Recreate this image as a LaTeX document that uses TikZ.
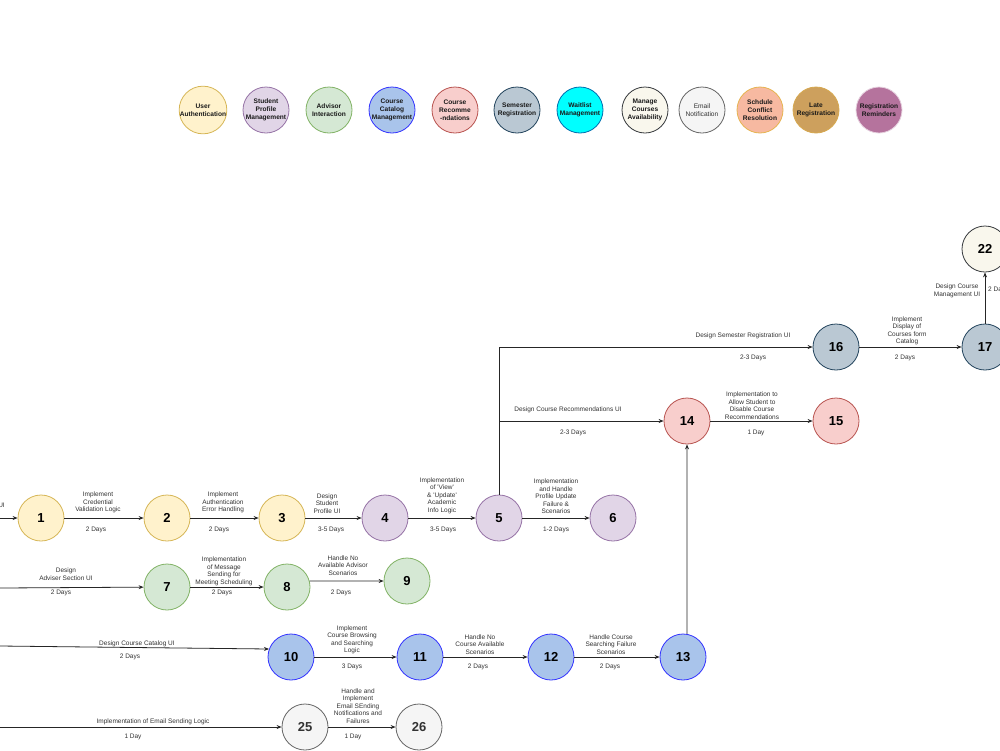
\documentclass[tikz,border=0pt]{standalone}
\usepackage{fontspec}
\setmainfont{Liberation Sans}
\usetikzlibrary{arrows.meta}
\definecolor{uaF}{HTML}{FFF2CC}\definecolor{uaD}{HTML}{D6B656}
\definecolor{spF}{HTML}{E1D5E7}\definecolor{spD}{HTML}{9673A6}
\definecolor{aiF}{HTML}{D5E8D4}\definecolor{aiD}{HTML}{82B366}
\definecolor{ccF}{HTML}{A9C4EB}\definecolor{ccD}{HTML}{3333FF}
\definecolor{crF}{HTML}{F8CECC}\definecolor{crD}{HTML}{B85450}
\definecolor{srF}{HTML}{BAC8D3}\definecolor{srD}{HTML}{23445D}
\definecolor{wmF}{HTML}{00FFFF}\definecolor{wmD}{HTML}{006EAF}
\definecolor{mcF}{HTML}{F9F7ED}\definecolor{mcD}{HTML}{36393D}
\definecolor{enF}{HTML}{F5F5F5}\definecolor{enD}{HTML}{666666}
\definecolor{scF}{HTML}{F7B9A1}\definecolor{scD}{HTML}{E6B450}
\definecolor{lrF}{HTML}{CDA05D}\definecolor{lrD}{HTML}{D6A84F}
\definecolor{rrF}{HTML}{B5739D}\definecolor{rrD}{HTML}{E6D0DE}
\definecolor{entx}{HTML}{333333}
\tikzset{
  circ/.style={circle, draw, minimum size=46pt, inner sep=0pt, line width=0.8pt},
  leg/.style={circ, font=\fontsize{6.6}{7.8}\selectfont\bfseries, align=center, text=black!90},
  num/.style={circ, font=\fontsize{13}{15}\selectfont\bfseries},
  lab/.style={font=\fontsize{6.5}{7.5}\selectfont, align=center, text=black!80, inner sep=0pt},
  arr/.style={draw=black!85, line width=0.8pt, -{Stealth[length=5pt,width=4pt]}},
  ua/.style={fill=uaF, draw=uaD}, sp/.style={fill=spF, draw=spD},
  ai/.style={fill=aiF, draw=aiD}, cc/.style={fill=ccF, draw=ccD},
  cr/.style={fill=crF, draw=crD}, sr/.style={fill=srF, draw=srD},
  wm/.style={fill=wmF, draw=wmD}, mc/.style={fill=mcF, draw=mcD},
  en/.style={fill=enF, draw=enD}, sc/.style={fill=scF, draw=scD},
  lr/.style={fill=lrF, draw=lrD}, rr/.style={fill=rrF, draw=rrD}
}
\begin{document}
\begin{tikzpicture}[x=1pt,y=-1pt]
\fill[white] (0,0) rectangle (1000,750);
\useasboundingbox (0,0) rectangle (1000,750);
\clip (0,0) rectangle (1000,750);

% legend
\node[leg,ua] (g1) at (203,110) {User\\Authentication};
\node[leg,sp] (g2) at (266,110) {Student\\Profile\\Management};
\node[leg,ai] (g3) at (329,110) {Advisor\\Interaction};
\node[leg,cc] (g4) at (392,110) {Course\\Catalog\\Management};
\node[leg,cr] (g5) at (455,110) {Course\\Recomme\\-ndations};
\node[leg,sr] (g6) at (517,110) {Semester\\Registration};
\node[leg,wm] (g7) at (580,110) {Waitlist\\Management};
\node[leg,mc] (g8) at (645,110) {Manage\\Courses\\Availability};
\node[leg,en,font=\fontsize{6.6}{7.8}\selectfont,text=entx] (g9) at (702,110) {Email\\Notification};
\node[leg,sc] (g10) at (760,110) {Schdule\\Conflict\\Resolution};
\node[leg,lr] (g11) at (816,110) {Late\\Registration};
\node[leg,rr] (g12) at (879,110) {Registration\\Reminders};

% nodes
\node[num,ua] (n1) at (41,518) {1};
\node[num,ua] (n2) at (167,518) {2};
\node[num,ua] (n3) at (282,518) {3};
\node[num,sp] (n4) at (385,518) {4};
\node[num,sp] (n5) at (499,518) {5};
\node[num,sp] (n6) at (613,518) {6};
\node[num,ai] (n7) at (167,587) {7};
\node[num,ai] (n8) at (287,587) {8};
\node[num,ai] (n9) at (407,581) {9};
\node[num,cc] (n10) at (291,657) {10};
\node[num,cc] (n11) at (420,657) {11};
\node[num,cc] (n12) at (551,657) {12};
\node[num,cc] (n13) at (683,657) {13};
\node[num,cr] (n14) at (687,421) {14};
\node[num,cr] (n15) at (836,421) {15};
\node[num,sr] (n16) at (836,347) {16};
\node[num,sr] (n17) at (985,347) {17};
\node[num,mc] (n22) at (985,249) {22};
\node[num,en,text=entx] (n25) at (305,727) {25};
\node[num,en,text=entx] (n26) at (419,727) {26};

% free ends at the left edge
\coordinate (s1) at (0,518);
\coordinate (s7) at (0,588);
\coordinate (s10) at (0,646);
\coordinate (s25) at (0,727);

% connectors
\draw[arr] (s1) -- (n1);
\draw[arr] (n1) -- (n2);
\draw[arr] (n2) -- (n3);
\draw[arr] (n3) -- (n4);
\draw[arr] (n4) -- (n5);
\draw[arr] (n5) -- (n6);
\draw[arr] (n5.north) |- (n16.west);
\draw[arr] (n5.north |- n14.west) -- (n14.west);
\draw[arr] (n14) -- (n15);
\draw[arr] (n16) -- (n17);
\draw[arr] (n17) -- (n22);
\draw[arr] (s7) -- (n7);
\draw[arr] (n7) -- (n8);
\draw[arr] (n8.15) -- (n9.west);
\draw[arr] (s10) -- (n10.160);
\draw[arr] (n10) -- (n11);
\draw[arr] (n11) -- (n12);
\draw[arr] (n12) -- (n13);
\draw[arr] (n13.80) -- (n14.south);
\draw[arr] (s25) -- (n25);
\draw[arr] (n25) -- (n26);

% labels
\node[lab, anchor=east] (l01) at (5,505) {UI};
\node[lab, anchor=south] (l12) at (98,513.5) {Implement\\Credential\\Validation Logic};
\node[lab] (d12) at (96,530) {2 Days};
\node[lab, anchor=south] (l23) at (223,513.5) {Implement\\Authentication\\Error Handling};
\node[lab] (d23) at (219,530) {2 Days};
\node[lab, anchor=south] (l34) at (327,513.5) {Design\\Student\\Profile UI};
\node[lab] (d34) at (331,530) {3-5 Days};
\node[lab, anchor=south] (l45) at (442,514) {Implementation\\of \textquotesingle View\textquotesingle\\\& \textquotesingle Update\textquotesingle\\Academic\\Info Logic};
\node[lab] (d45) at (443,530) {3-5 Days};
\node[lab, anchor=south] (l56) at (556,514) {Implementation\\and Handle\\Profile Update\\Failure \&\\Scenarios};
\node[lab] (d56) at (556,530) {1-2 Days};
\node[lab] (l516) at (743,336) {Design Semester Registration UI};
\node[lab] (d516) at (753,358) {2-3 Days};
\node[lab] (l514) at (568,410) {Design Course Recommendations UI};
\node[lab] (d514) at (573,433) {2-3 Days};
\node[lab, anchor=south] (l1415) at (752,419.5) {Implementation to\\Allow Student to\\Disable Course\\Recommendations};
\node[lab] (d1415) at (756,433) {1 Day};
\node[lab, anchor=south] (l1617) at (907,345.5) {Implement\\Display of\\Courses form\\Catalog};
\node[lab] (d1617) at (905,358) {2 Days};
\node[lab] (l1722) at (957,291) {Design Course\\Management UI};
\node[lab, anchor=west] (d1722) at (988,290) {2 Days};
\node[lab, anchor=south] (l07) at (66,580.5) {Design\\Adviser Section UI};
\node[lab] (d07) at (61,593) {2 Days};
\node[lab, anchor=south] (l78) at (224,586) {Implementation\\of Message\\Sending for\\Meeting Scheduling};
\node[lab] (d78) at (222,593) {2 Days};
\node[lab, anchor=south] (l89) at (343,575.5) {Handle No\\Available Advisor\\Scenarios};
\node[lab] (d89) at (341,593) {2 Days};
\node[lab] (l010) at (137,644) {Design Course Catalog UI};
\node[lab] (d010) at (130,657) {2 Days};
\node[lab, anchor=south] (l1011) at (352,654.5) {Implement\\Course Browsing\\and Searching\\Logic};
\node[lab] (d1011) at (352,667) {3 Days};
\node[lab, anchor=south] (l1112) at (480,654.5) {Handle No\\Course Available\\Scenarios};
\node[lab] (d1112) at (478,667) {2 Days};
\node[lab, anchor=south] (l1213) at (611,654.5) {Handle Course\\Searching Failure\\Scenarios};
\node[lab] (d1213) at (610,667) {2 Days};
\node[lab] (l025) at (153,722) {Implementation of Email Sending Logic};
\node[lab] (d025) at (133,737) {1 Day};
\node[lab, anchor=south] (l2526) at (358,723.5) {Handle and\\Implement\\Email SEnding\\Notifications and\\Failures};
\node[lab] (d2526) at (353,737) {1 Day};
\end{tikzpicture}
\end{document}
